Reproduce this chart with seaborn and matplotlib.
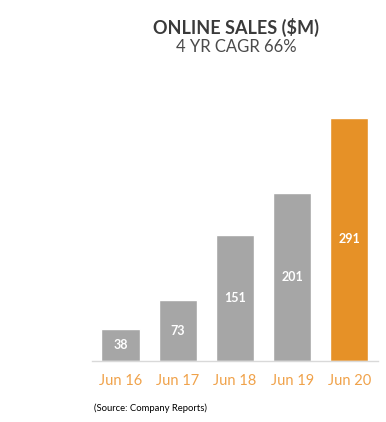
import pandas as pd
import matplotlib
matplotlib.use("Agg")
import matplotlib.pyplot as plt
import seaborn as sns

years = ["Jun 16", "Jun 17", "Jun 18", "Jun 19", "Jun 20"]
sales = [38, 73, 151, 201, 291]
bar_colors = ["#A6A6A6", "#A6A6A6", "#A6A6A6", "#A6A6A6", "#E69127"]

df = pd.DataFrame({"year": years, "sales": sales})

sns.set_style("white")
plt.rcParams["font.family"] = ["Lato", "DejaVu Sans"]

fig = plt.figure(figsize=(3.86, 4.22), dpi=100)
ax = fig.add_axes([0.238, 0.1445, 0.741, 0.634])
sns.barplot(data=df, x="year", y="sales", hue="year", palette=dict(zip(years, bar_colors)),
            legend=False, width=0.67, saturation=1, ax=ax)

for c in ax.containers:
    ax.bar_label(c, label_type="center", color="white", fontsize=9, fontweight="bold")

ax.set_xlim(-0.5, 4.5)
ax.set_ylim(0, 320)
ax.set_xlabel("")
ax.set_ylabel("")
ax.set_yticks([])
for s in ["top", "left", "right"]:
    ax.spines[s].set_visible(False)
ax.spines["bottom"].set_color("#D9D9D9")
ax.spines["bottom"].set_linewidth(1)
ax.tick_params(axis="x", length=0, pad=9, labelsize=10.5, labelcolor="#F0A24A")

fig.text(0.612, 0.935, "ONLINE SALES ($M)", ha="center", va="center", fontsize=13,
         fontweight="bold", color="#3A3A3A")
fig.text(0.612, 0.888, "4 YR CAGR 66%", ha="center", va="center", fontsize=12, color="#4A4A4A")
fig.text(0.243, 0.033, "(Source: Company Reports)", ha="left", va="center", fontsize=6.8, color="black")

fig.savefig("out.png", dpi=100)
